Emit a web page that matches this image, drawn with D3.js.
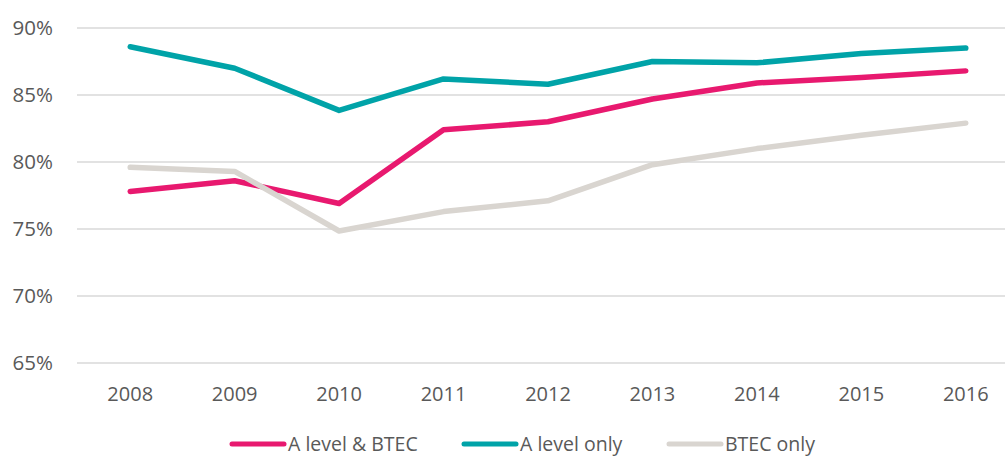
<!DOCTYPE html>
<html>
<head>
<meta charset="utf-8">
<script src="https://cdn.jsdelivr.net/npm/d3@7"></script>
<style>
  body { margin: 0; background: #fff; }
  svg text { font-family: "Open Sans", "Liberation Sans", sans-serif; fill: #595959; }
</style>
</head>
<body>
<div id="chart"></div>
<script>
const years = ["2008", "2009", "2010", "2011", "2012", "2013", "2014", "2015", "2016"];
const aLevelBtec = [77.8, 78.6, 76.9, 82.4, 83.0, 84.7, 85.9, 86.3, 86.8];
const aLevelOnly = [88.6, 87.0, 83.85, 86.2, 85.8, 87.5, 87.4, 88.1, 88.5];
const btecOnly = [79.6, 79.3, 74.85, 76.3, 77.1, 79.8, 81.0, 82.0, 82.9];
const yTicks = [65, 70, 75, 80, 85, 90];

const series = [
  {name: "A level & BTEC", values: aLevelBtec, color: "#E8196F"},
  {name: "A level only", values: aLevelOnly, color: "#00A3A8"},
  {name: "BTEC only", values: btecOnly, color: "#D9D5D0"}
];

const width = 1005;
const height = 457;

const svg = (d3.select("#chart").append("svg")
             .attr("width", width)
             .attr("height", height));

const x = (d3.scaleBand()
           .domain(years)
           .range([78, 1018]));

const y = (d3.scaleLinear()
           .domain([65, 90])
           .range([363, 28]));

// gridlines
svg.append("g")
  .selectAll("line")
  .data(yTicks)
  .join("line")
  .attr("x1", 77)
  .attr("x2", width)
  .attr("y1", (d) => y(d))
  .attr("y2", (d) => y(d))
  .attr("stroke", "#D9D9D9")
  .attr("stroke-width", 1.5);

// y labels
svg.append("g")
  .selectAll("text")
  .data(yTicks)
  .join("text")
  .attr("x", 53)
  .attr("y", (d) => y(d))
  .attr("dy", "0.35em")
  .attr("text-anchor", "end")
  .attr("font-size", 20.5)
  .text((d) => d + "%");

// x labels
svg.append("g")
  .selectAll("text")
  .data(years)
  .join("text")
  .attr("x", (d) => x(d) + x.bandwidth() / 2)
  .attr("y", 394)
  .attr("dy", "0.35em")
  .attr("text-anchor", "middle")
  .attr("font-size", 20)
  .text((d) => d);

const line = d3.line()
  .x((d, i) => x(years[i]) + x.bandwidth() / 2)
  .y((d) => y(d));

svg.append("g")
  .selectAll("path")
  .data(series)
  .join("path")
  .attr("d", (d) => line(d.values))
  .attr("fill", "none")
  .attr("stroke", (d) => d.color)
  .attr("stroke-width", 5.5)
  .attr("stroke-linecap", "round")
  .attr("stroke-linejoin", "round");

// legend
const legendX = [232, 464, 669];
const legend = svg.append("g")
  .selectAll("g")
  .data(series)
  .join("g")
  .attr("transform", (d, i) => `translate(${legendX[i]}, 444)`);

legend.append("line")
  .attr("x1", 0)
  .attr("x2", 52)
  .attr("stroke", (d) => d.color)
  .attr("stroke-width", 5)
  .attr("stroke-linecap", "round");

legend.append("text")
  .attr("x", 56)
  .attr("dy", "0.35em")
  .attr("font-size", 19.5)
  .text((d) => d.name);
</script>
</body>
</html>
